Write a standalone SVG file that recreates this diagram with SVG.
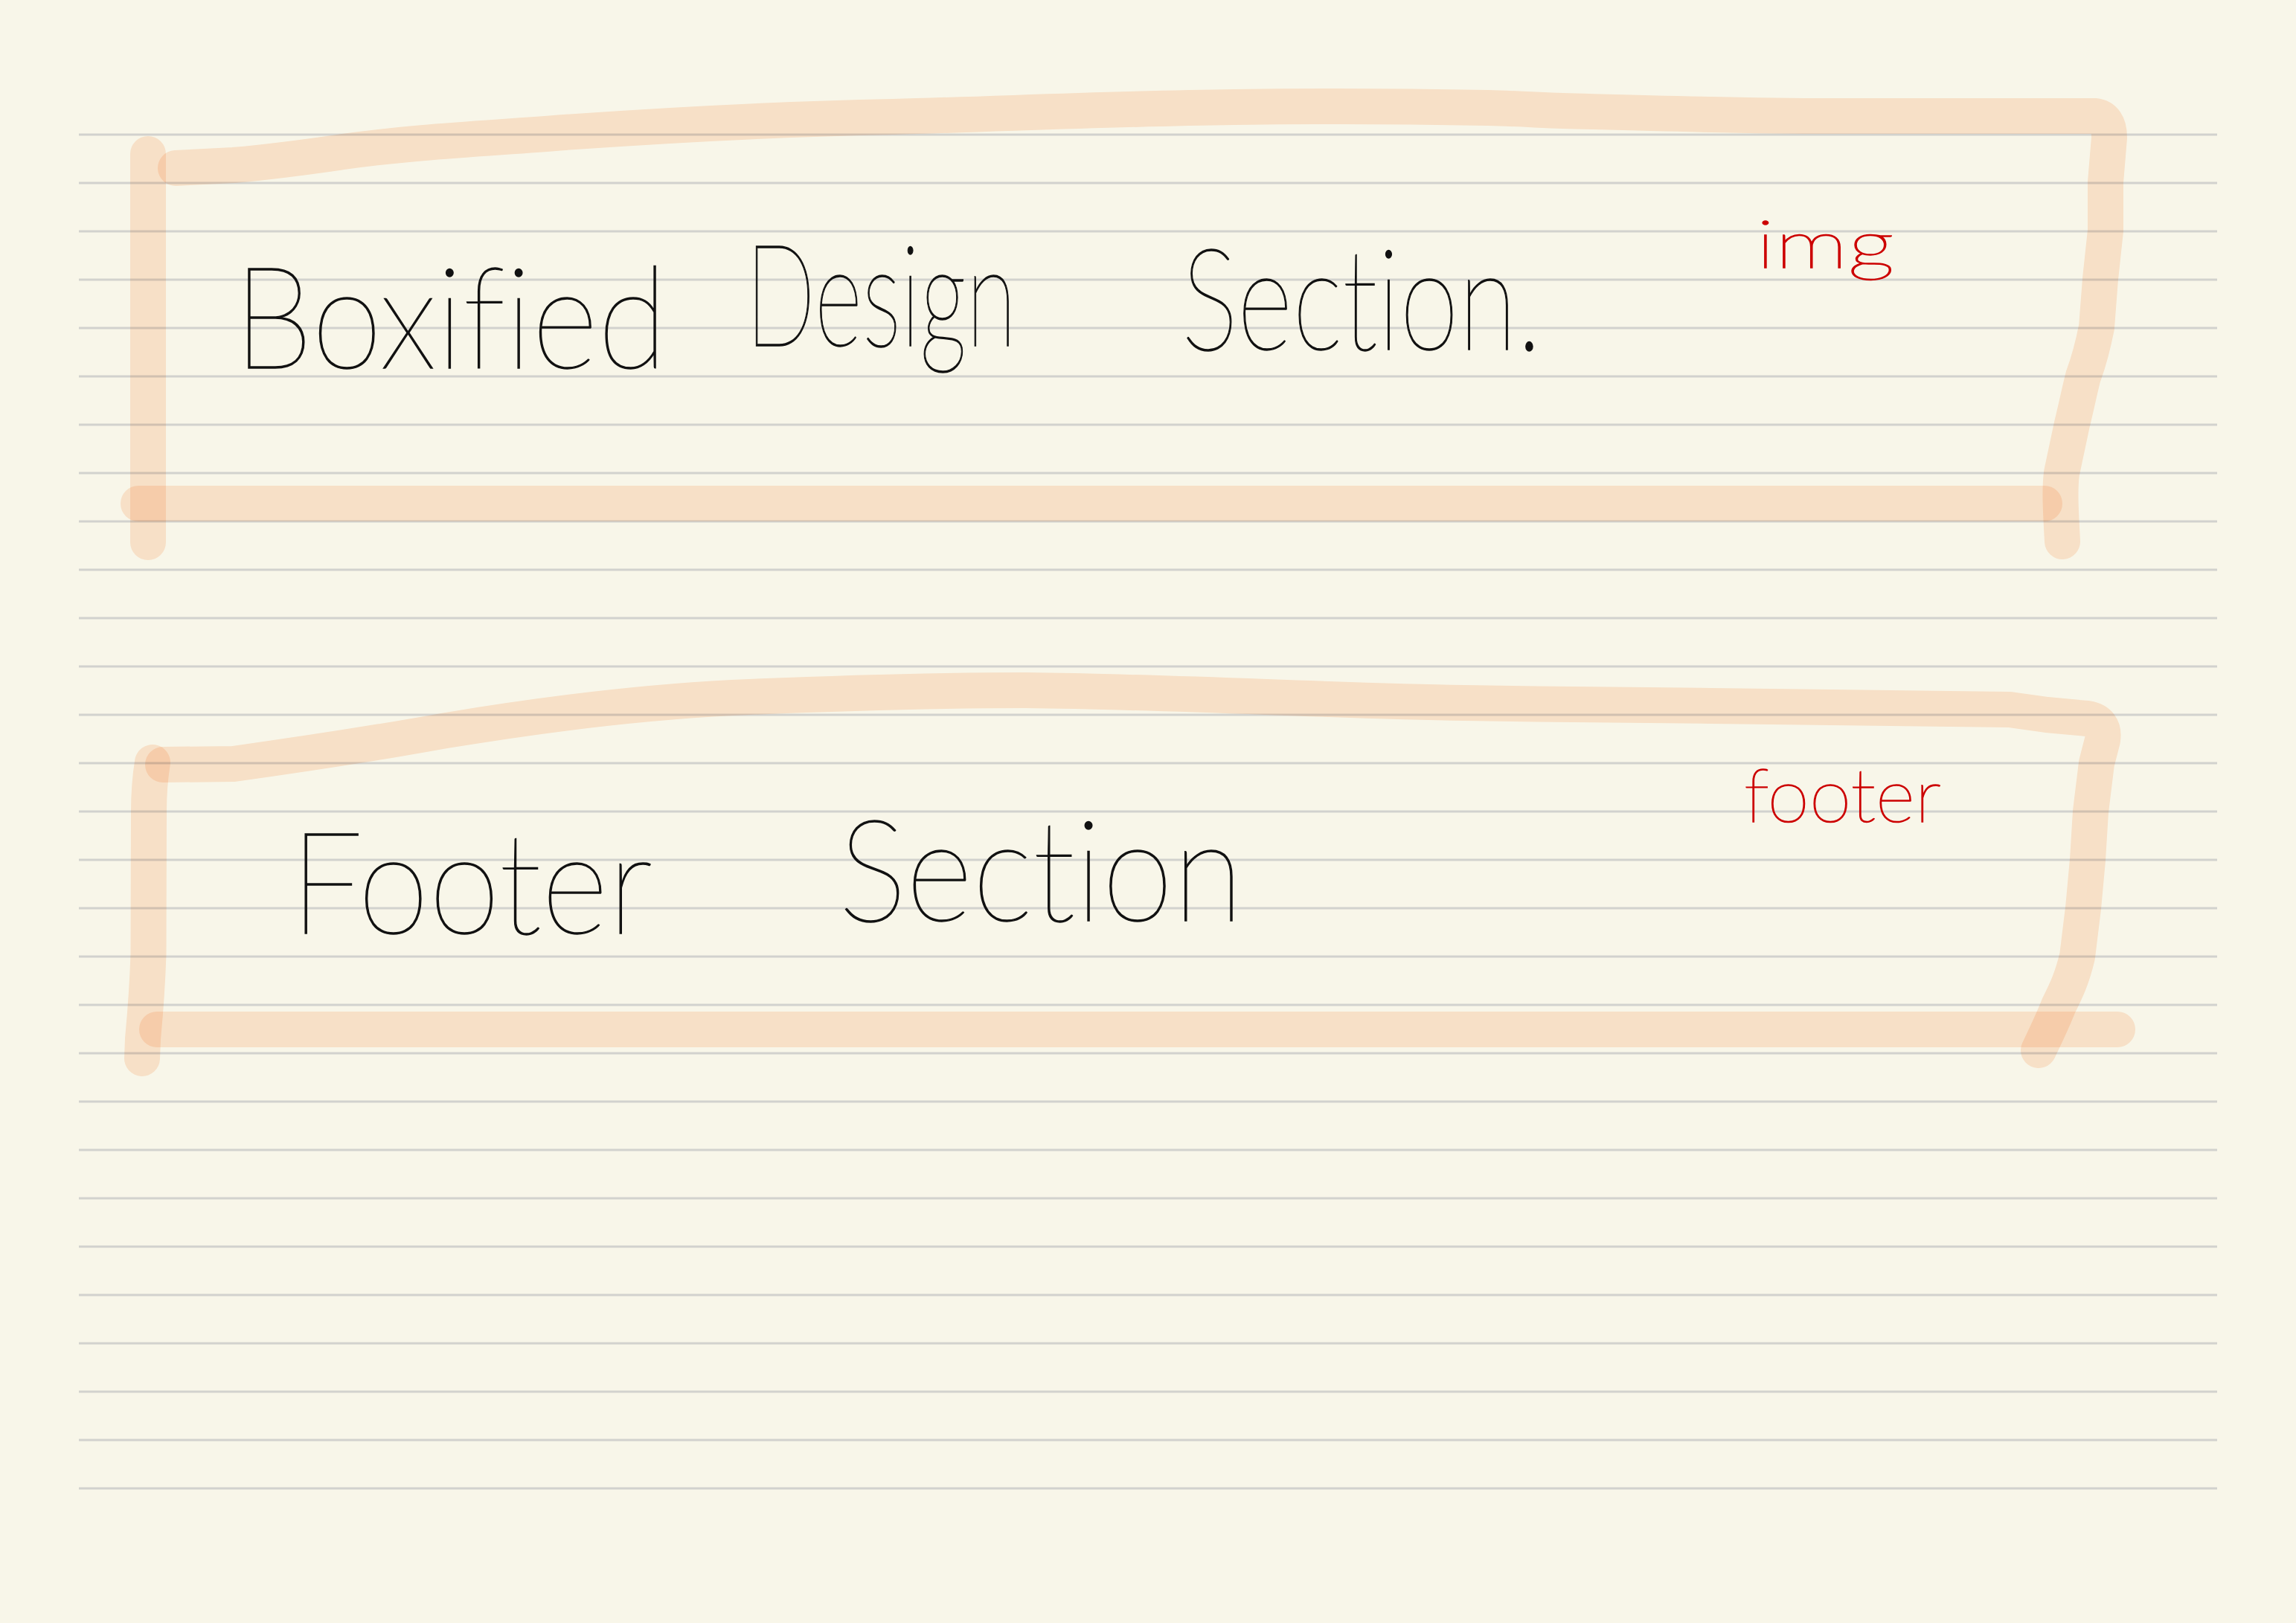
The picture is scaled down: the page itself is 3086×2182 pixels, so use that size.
<svg xmlns="http://www.w3.org/2000/svg" width="3086" height="2182" viewBox="0 0 3086 2182">
<style>
.paper{fill:#f8f6e9}
.rule{stroke:#d2d2ce;stroke-width:3;fill:none}
.hl{fill:none;stroke:#fee9da;stroke-width:48;stroke-linecap:round;stroke-linejoin:round;mix-blend-mode:multiply}
.ink{font-family:Lato,"Open Sans","DejaVu Sans",sans-serif;font-weight:100;font-variant-ligatures:none;fill:#111111;stroke:#111111;stroke-width:1.5}
.red{font-family:Lato,"Open Sans","DejaVu Sans",sans-serif;font-weight:100;font-variant-ligatures:none;fill:#cc0000;stroke:#cc0000;stroke-width:1.5}
</style>
<rect class="paper" x="0" y="0" width="3086" height="2182"/>
<path class="rule" d="M106,181H2980M106,246H2980M106,311H2980M106,376H2980M106,441H2980M106,506H2980M106,571H2980M106,636H2980M106,701H2980M106,766H2980M106,831H2980M106,896H2980M106,961H2980M106,1026H2980M106,1091H2980M106,1156H2980M106,1221H2980M106,1286H2980M106,1351H2980M106,1416H2980M106,1481H2980M106,1546H2980M106,1611H2980M106,1676H2980M106,1741H2980M106,1806H2980M106,1871H2980M106,1936H2980M106,2001H2980"/>
<g id="connectors"/>
<g id="box-boxified">
<path class="hl" d="M199,207 L199,729"/>
<path class="hl" d="M236,226 L314,222 C380,216 420,210 461,204 C560,190 660,186 759,178 C900,168 1050,160 1200,157 C1350,153 1500,146 1659,144 C1780,142 1900,143 2000,145 C2040,146 2070,148 2100,149 C2250,153 2350,156 2459,156 L2815,156 Q2835,158 2835,185 L2830,245 L2830,310 L2823,375 L2818,440 C2812,470 2806,490 2800,506 C2794,530 2790,550 2785,570 L2771,636 C2768,660 2770,690 2772,728"/>
<path class="hl" d="M186,677 L2748,677"/>
<text class="ink" x="314" y="495" font-size="190" textLength="583" lengthAdjust="spacingAndGlyphs">Boxified</text>
<text class="ink" x="1002" y="465" font-size="190" textLength="364" lengthAdjust="spacingAndGlyphs">Design</text>
<text class="ink" x="1588" y="470" font-size="190" textLength="484" lengthAdjust="spacingAndGlyphs">Section.</text>
<text class="red" x="2360" y="360" font-size="90" textLength="186" lengthAdjust="spacingAndGlyphs">img</text>
</g>
<g id="box-footer">
<path class="hl" d="M205,1025 C201,1050 200,1070 200,1091 L199.5,1283 C198,1330 195,1365 192,1397 L191,1423"/>
<path class="hl" d="M219,1028 L314,1027 C400,1015 500,1000 600,982 C720,962 850,945 984,938 C1120,932 1250,928 1378,928 C1580,930 1780,942 1968,945 C2080,947 2200,948 2300,949 L2701,954 L2751,961 L2805,966 Q2830,970 2826,995 L2818,1026 L2810,1091 L2806,1156 L2800,1221 L2792,1286 C2785,1315 2778,1330 2767,1352 C2758,1375 2748,1395 2740,1412"/>
<path class="hl" d="M211,1384 L2846,1384"/>
<text class="ink" x="390" y="1255" font-size="190" textLength="487" lengthAdjust="spacingAndGlyphs">Footer</text>
<text class="ink" x="1127" y="1238" font-size="190" textLength="544" lengthAdjust="spacingAndGlyphs">Section</text>
<text class="red" x="2344" y="1105" font-size="100" textLength="265" lengthAdjust="spacingAndGlyphs">footer</text>
</g>
</svg>
